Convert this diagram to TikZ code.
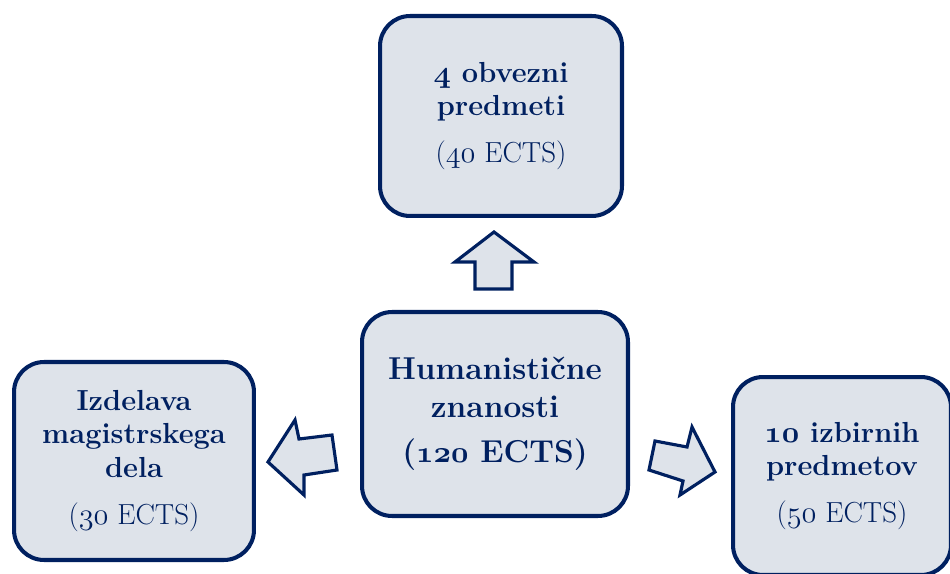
\documentclass[tikz,border=0pt]{standalone}
\usepackage{fontspec}
\usepackage{xcolor}
\usepackage{tikz}
\usetikzlibrary{shapes,arrows.meta,positioning}
\definecolor{navy}{RGB}{0,32,96}
\definecolor{paleblue}{RGB}{222,227,234}
% old-style figures from the math italic font
\newcommand{\osf}[1]{\ensuremath{\mathnormal{#1}}}
\newcommand{\osfb}[1]{{\boldmath\ensuremath{\mathnormal{#1}}}}

\begin{document}
\begin{tikzpicture}
  [
    x=0.02cm, y=-0.02cm,
    Box/.style={rectangle, rounded corners=0.6cm, draw=navy, fill=paleblue, line width=2.3pt, text=navy, align=center, inner sep=0pt, font=\fontsize{16.5}{19}\selectfont},
    Hub/.style={Box, font=\fontsize{18}{21.5}\selectfont\bfseries\boldmath},
    Block/.style={draw=navy, fill=paleblue, line width=1.8pt, line join=miter}
  ]
  \useasboundingbox (0,0) rectangle (950,574);
  \clip (0,0) rectangle (950,574);

  % Nodes
  \node[Box, minimum width=4.84cm, minimum height=4cm] (obvezni) at(501, 116) {\textbf{\osfb{4} obvezni}\\ \textbf{predmeti}\\[8pt] (\osf{40} ECTS)};

  \node[Hub, minimum width=5.32cm, minimum height=4.08cm] (hum) at(495, 414) {Humanistične\\ znanosti\\[4pt] (\osf{120} ECTS)};

  \node[Box, minimum width=4.8cm, minimum height=3.96cm] (mag) at(134, 461) {\textbf{Izdelava}\\ \textbf{magistrskega}\\ \textbf{dela}\\[8pt] (\osf{30} ECTS)};

  \node[Box, minimum width=4.36cm, minimum height=3.96cm] (izb) at(842, 476) {\textbf{\osfb{10} izbirnih}\\ \textbf{predmetov}\\[8pt] (\osf{50} ECTS)};

  % Arrows
  \draw[Block] (494,232) -- (534,262) -- (512,262) -- (512,289) -- (475,289) -- (475,262) -- (455,262) -- cycle;

  \draw[Block] (268,462) -- (295,420) -- (299,439) -- (332,435) -- (337,470) -- (304,475) -- (304,495) -- cycle;

  \draw[Block] (655,441) -- (687,447) -- (692,427) -- (715,472) -- (680,495) -- (683,481) -- (649,470) -- cycle;

\end{tikzpicture}
\end{document}
